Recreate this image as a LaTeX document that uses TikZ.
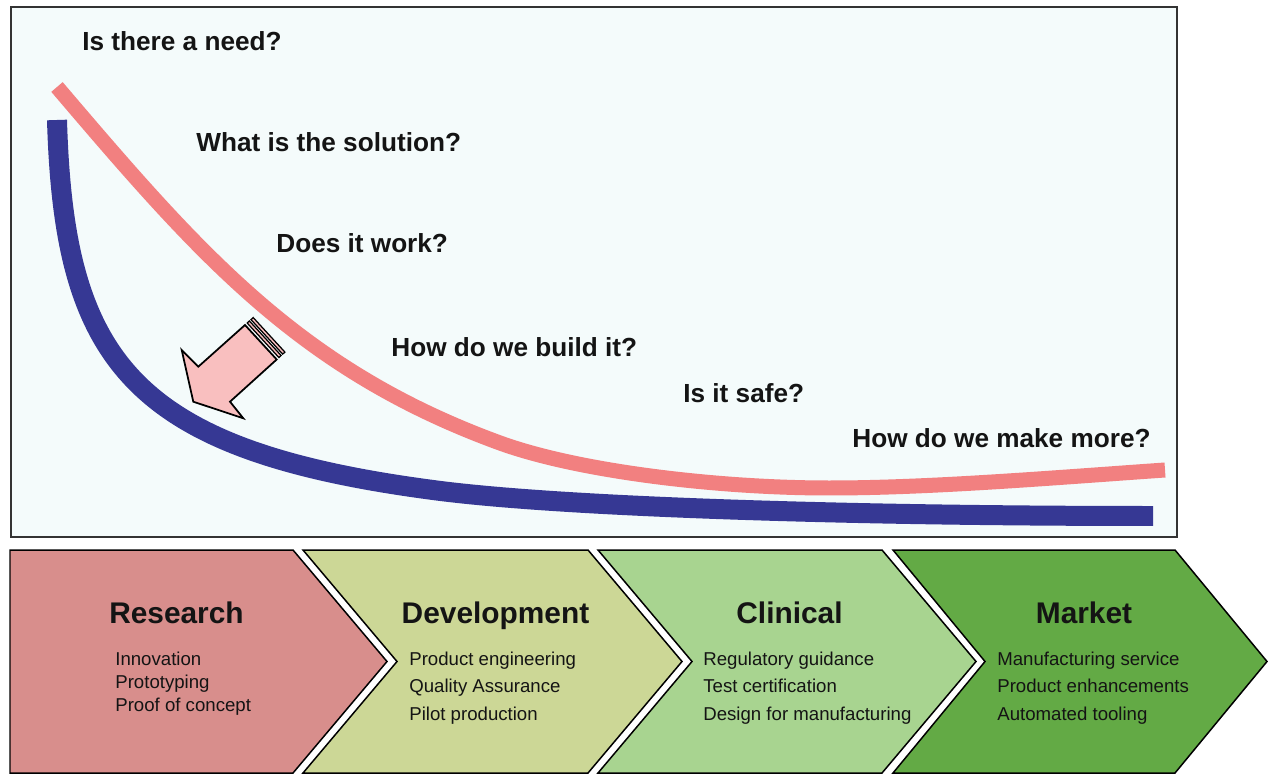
\documentclass[tikz,border=0pt]{standalone}
\usepackage{fontspec}
\setmainfont{Liberation Sans}
\usepackage{tikz}
\definecolor{paleaqua}{RGB}{244,251,251}
\definecolor{needpink}{RGB}{242,128,128}
\definecolor{costblue}{RGB}{54,56,148}
\definecolor{arrowpink}{RGB}{249,191,191}
\definecolor{researchred}{RGB}{216,142,140}
\definecolor{developolive}{RGB}{204,215,150}
\definecolor{clinicalgreen}{RGB}{168,212,144}
\definecolor{marketgreen}{RGB}{99,170,69}

\begin{document}
\begin{tikzpicture}[x=0.02cm,y=-0.02cm,
    question/.style={anchor=base west, inner sep=0pt, text=black!92,
        font=\fontsize{14.9}{18}\selectfont\bfseries},
    stagetitle/.style={anchor=base, inner sep=0pt, text=black!92,
        font=\fontsize{17}{20}\selectfont\bfseries},
    stageitem/.style={anchor=base west, inner sep=0pt, text=black!92,
        font=\fontsize{10.6}{13}\selectfont},
    stage/.style={draw=black, line width=0.03cm, line join=miter},
    stripe/.style={fill=arrowpink, draw=black, line width=0.035cm, line join=miter}
]
\useasboundingbox (0,0) rectangle (1270,776);
\draw[fill=paleaqua, draw=black!80, line width=0.04cm] (11,7) rectangle (1177,537);

% curves
\draw[needpink, line width=0.3cm] (57,87) .. controls (200,255) and (300,370) .. (500,443)
    .. controls (580,472) and (720,488) .. (829,488)
    .. controls (930,488) and (1050,478) .. (1165,470);
\draw[costblue, line width=0.4cm] (57,120) .. controls (64,360) and (130,450) .. (433,490)
    .. controls (560,507) and (850,516) .. (1153,516);

% striped arrow
\draw[stripe] (193.3,401.7) -- (243.3,418.3) -- (230,401.7) -- (276.7,359.5)
    -- (245,325) -- (198.3,366.7) -- (181.7,350) -- cycle;
\draw[stripe, line width=0.025cm] (247.2,323.0) -- (278.9,357.5) -- (281.1,355.5) -- (249.4,321.0) -- cycle;
\draw[stripe, line width=0.025cm] (251.0,319.6) -- (282.7,354.1) -- (284.9,352.1) -- (253.2,317.6) -- cycle;

\node[question] (need) at (82,51) {Is there a need?};
\node[question] (solution) at (196,152) {What is the solution?};
\node[question] (works) at (276,253) {Does it work?};
\node[question] (build) at (391,357) {How do we build it?};
\node[question] (safe) at (683,402) {Is it safe?};
\node[question] (more) at (852,447) {How do we make more?};

% stages
\draw[stage, fill=researchred] (10,550) -- (293,550) -- (387,661.5) -- (293,773)
    -- (10,773) -- cycle;
\draw[stage, fill=developolive] (303,550) -- (588,550) -- (682,661.5) -- (588,773)
    -- (303,773) -- (397,661.5) -- cycle;
\draw[stage, fill=clinicalgreen] (598,550) -- (882,550) -- (976,661.5) -- (882,773)
    -- (598,773) -- (692,661.5) -- cycle;
\draw[stage, fill=marketgreen] (893,550) -- (1175,550) -- (1267,661.5) -- (1175,773)
    -- (893,773) -- (985,661.5) -- cycle;

\node[stagetitle] (research) at (176.5,623.5) {Research};
\node[stageitem] (research1) at (115,665) {Innovation};
\node[stageitem] (research2) at (115,688) {Prototyping};
\node[stageitem] (research3) at (115,711) {Proof of concept};

\node[stagetitle] (development) at (495.5,623.5) {Development};
\node[stageitem] (development1) at (409,665) {Product engineering};
\node[stageitem] (development2) at (409,692.5) {Quality Assurance};
\node[stageitem] (development3) at (409,720) {Pilot production};

\node[stagetitle] (clinical) at (789.5,623.5) {Clinical};
\node[stageitem] (clinical1) at (703,665) {Regulatory guidance};
\node[stageitem] (clinical2) at (703,692.5) {Test certification};
\node[stageitem] (clinical3) at (703,720) {Design for manufacturing};

\node[stagetitle] (market) at (1084,623.5) {Market};
\node[stageitem] (market1) at (997,665) {Manufacturing service};
\node[stageitem] (market2) at (997,692.5) {Product enhancements};
\node[stageitem] (market3) at (997,720) {Automated tooling};
\end{tikzpicture}
\end{document}
